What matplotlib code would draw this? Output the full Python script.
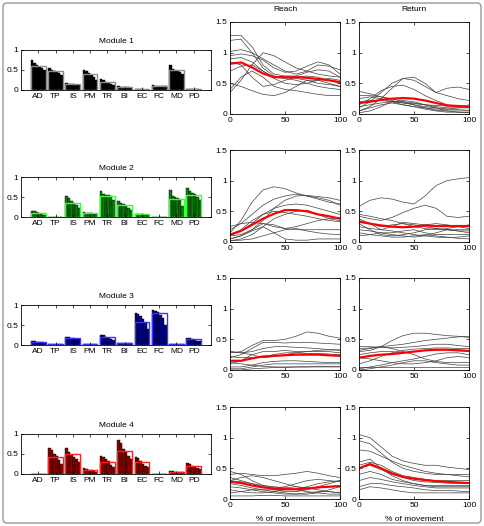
import numpy as np
import matplotlib.pyplot as plt
from matplotlib.patches import FancyBboxPatch

plt.rcParams['font.family'] = ['Liberation Sans', 'DejaVu Sans']
plt.rcParams['font.size'] = 6

muscles = ['AD', 'TP', 'IS', 'PM', 'TR', 'BI', 'EC', 'FC', 'MD', 'PD']
pct = [0, 10, 20, 30, 40, 50, 60, 70, 80, 90, 100]

# module weights per muscle (sorted subjects) and group mean outline
m1_bars = [[0.75, 0.68, 0.62, 0.58, 0.55, 0.50], [0.55, 0.50, 0.47, 0.45, 0.42, 0.38],
           [0.18, 0.16, 0.15, 0.14, 0.13, 0.12], [0.51, 0.47, 0.43, 0.38, 0.32, 0.25],
           [0.27, 0.24, 0.20, 0.18, 0.16, 0.13], [0.09, 0.08, 0.08, 0.07, 0.07, 0.06],
           [0.02, 0.02, 0.02, 0.02, 0.01, 0.01], [0.12, 0.11, 0.10, 0.10, 0.09, 0.09],
           [0.63, 0.52, 0.50, 0.48, 0.45, 0.40], [0.03, 0.03, 0.02, 0.02, 0.02, 0.01]]
m1_mean = [0.59, 0.47, 0.15, 0.39, 0.21, 0.08, 0.02, 0.10, 0.49, 0.02]

m2_bars = [[0.16, 0.14, 0.13, 0.10, 0.07, 0.06], [0.01, 0.01, 0.01, 0.01, 0.01, 0.01],
           [0.52, 0.47, 0.40, 0.35, 0.30, 0.22], [0.13, 0.11, 0.10, 0.09, 0.08, 0.07],
           [0.64, 0.58, 0.56, 0.55, 0.52, 0.42], [0.39, 0.35, 0.32, 0.28, 0.22, 0.18],
           [0.08, 0.08, 0.07, 0.07, 0.06, 0.05], [0.01, 0.01, 0.01, 0.01, 0.01, 0.01],
           [0.68, 0.53, 0.50, 0.47, 0.42, 0.27], [0.72, 0.66, 0.60, 0.58, 0.50, 0.42]]
m2_mean = [0.10, 0.01, 0.35, 0.10, 0.52, 0.31, 0.07, 0.01, 0.46, 0.56]

m3_bars = [[0.11, 0.09, 0.08, 0.07, 0.07, 0.06], [0.02, 0.02, 0.02, 0.02, 0.02, 0.02],
           [0.19, 0.19, 0.18, 0.18, 0.16, 0.14], [0.02, 0.02, 0.02, 0.02, 0.02, 0.02],
           [0.26, 0.24, 0.20, 0.17, 0.14, 0.12], [0.04, 0.04, 0.04, 0.04, 0.04, 0.04],
           [0.81, 0.78, 0.72, 0.65, 0.55, 0.40], [0.87, 0.85, 0.82, 0.75, 0.68, 0.50],
           [0.02, 0.02, 0.02, 0.02, 0.02, 0.02], [0.18, 0.17, 0.15, 0.13, 0.10, 0.09]]
m3_mean = [0.08, 0.02, 0.18, 0.02, 0.19, 0.04, 0.58, 0.80, 0.02, 0.15]

m4_bars = [[0.01, 0.01, 0.01, 0.01, 0.01, 0.01], [0.66, 0.60, 0.50, 0.45, 0.35, 0.25],
           [0.66, 0.55, 0.48, 0.43, 0.38, 0.30], [0.14, 0.13, 0.11, 0.09, 0.07, 0.06],
           [0.44, 0.42, 0.38, 0.32, 0.22, 0.18], [0.84, 0.78, 0.62, 0.55, 0.45, 0.37],
           [0.43, 0.40, 0.32, 0.25, 0.20, 0.17], [0.01, 0.01, 0.01, 0.01, 0.01, 0.01],
           [0.08, 0.07, 0.06, 0.06, 0.05, 0.05], [0.28, 0.25, 0.20, 0.18, 0.16, 0.12]]
m4_mean = [0.01, 0.43, 0.49, 0.10, 0.29, 0.57, 0.30, 0.01, 0.06, 0.20]

# activation coefficients, one curve per subject, plus the mean (red)
r1_reach = [[1.28, 1.28, 1.10, 0.80, 0.65, 0.62, 0.62, 0.68, 0.72, 0.70, 0.60],
            [1.20, 1.22, 1.00, 0.75, 0.62, 0.60, 0.58, 0.55, 0.50, 0.48, 0.45],
            [1.02, 1.05, 1.00, 0.90, 0.80, 0.70, 0.65, 0.70, 0.80, 0.78, 0.72],
            [0.95, 0.98, 0.95, 0.88, 0.75, 0.68, 0.70, 0.78, 0.85, 0.80, 0.65],
            [0.35, 0.55, 0.80, 1.00, 0.95, 0.85, 0.75, 0.70, 0.65, 0.62, 0.60],
            [0.40, 0.60, 0.70, 0.60, 0.45, 0.40, 0.38, 0.35, 0.32, 0.30, 0.30],
            [0.50, 0.45, 0.38, 0.32, 0.30, 0.35, 0.45, 0.55, 0.55, 0.50, 0.45],
            [0.85, 0.80, 0.60, 0.45, 0.48, 0.55, 0.60, 0.62, 0.60, 0.55, 0.50],
            [0.70, 0.78, 0.80, 0.70, 0.58, 0.50, 0.48, 0.50, 0.55, 0.58, 0.55],
            [0.90, 0.92, 0.85, 0.70, 0.60, 0.58, 0.55, 0.50, 0.45, 0.42, 0.40]]
r1_reach_mean = [0.82, 0.84, 0.76, 0.66, 0.60, 0.60, 0.60, 0.59, 0.57, 0.55, 0.52]

r1_return = [[0.10, 0.20, 0.35, 0.50, 0.58, 0.55, 0.45, 0.35, 0.30, 0.25, 0.22],
             [0.05, 0.12, 0.25, 0.42, 0.58, 0.60, 0.50, 0.35, 0.42, 0.44, 0.40],
             [0.15, 0.25, 0.38, 0.45, 0.47, 0.40, 0.30, 0.22, 0.15, 0.12, 0.10],
             [0.37, 0.33, 0.28, 0.22, 0.18, 0.15, 0.12, 0.10, 0.08, 0.07, 0.06],
             [0.30, 0.30, 0.28, 0.25, 0.20, 0.15, 0.10, 0.06, 0.05, 0.05, 0.05],
             [0.20, 0.22, 0.22, 0.20, 0.18, 0.17, 0.15, 0.14, 0.13, 0.12, 0.12],
             [0.12, 0.15, 0.18, 0.20, 0.20, 0.18, 0.15, 0.12, 0.10, 0.10, 0.10],
             [0.05, 0.10, 0.15, 0.18, 0.15, 0.12, 0.08, 0.05, 0.03, 0.03, 0.02],
             [0.25, 0.28, 0.25, 0.20, 0.15, 0.12, 0.10, 0.08, 0.08, 0.10, 0.15],
             [0.02, 0.05, 0.12, 0.20, 0.22, 0.20, 0.15, 0.10, 0.05, 0.03, 0.02]]
r1_return_mean = [0.18, 0.20, 0.23, 0.25, 0.26, 0.25, 0.22, 0.18, 0.14, 0.13, 0.12]

r2_reach = [[0.15, 0.35, 0.65, 0.85, 0.90, 0.87, 0.80, 0.75, 0.72, 0.68, 0.60],
            [0.20, 0.30, 0.45, 0.60, 0.70, 0.75, 0.78, 0.75, 0.70, 0.65, 0.62],
            [0.05, 0.10, 0.20, 0.35, 0.55, 0.68, 0.75, 0.76, 0.74, 0.72, 0.68],
            [0.10, 0.18, 0.30, 0.45, 0.55, 0.60, 0.62, 0.60, 0.55, 0.50, 0.45],
            [0.02, 0.05, 0.12, 0.25, 0.38, 0.45, 0.50, 0.52, 0.45, 0.38, 0.35],
            [0.25, 0.30, 0.32, 0.30, 0.25, 0.22, 0.25, 0.30, 0.35, 0.38, 0.40],
            [0.10, 0.12, 0.20, 0.30, 0.28, 0.22, 0.20, 0.20, 0.20, 0.20, 0.20],
            [0.05, 0.10, 0.18, 0.25, 0.15, 0.05, 0.03, 0.03, 0.05, 0.05, 0.05],
            [0.02, 0.03, 0.05, 0.10, 0.15, 0.20, 0.22, 0.18, 0.15, 0.13, 0.12],
            [0.12, 0.20, 0.35, 0.45, 0.50, 0.48, 0.45, 0.42, 0.38, 0.35, 0.33]]
r2_reach_mean = [0.12, 0.18, 0.28, 0.38, 0.46, 0.52, 0.52, 0.50, 0.45, 0.42, 0.38]

r2_return = [[0.58, 0.68, 0.72, 0.70, 0.65, 0.62, 0.75, 0.92, 1.00, 1.03, 1.05],
             [0.42, 0.38, 0.35, 0.40, 0.48, 0.55, 0.60, 0.55, 0.42, 0.40, 0.42],
             [0.45, 0.42, 0.38, 0.35, 0.30, 0.25, 0.22, 0.20, 0.22, 0.25, 0.28],
             [0.38, 0.30, 0.20, 0.25, 0.32, 0.30, 0.28, 0.30, 0.28, 0.25, 0.22],
             [0.30, 0.20, 0.12, 0.10, 0.12, 0.15, 0.20, 0.22, 0.20, 0.18, 0.15],
             [0.20, 0.18, 0.15, 0.15, 0.18, 0.20, 0.15, 0.12, 0.12, 0.12, 0.12],
             [0.15, 0.12, 0.10, 0.08, 0.08, 0.10, 0.12, 0.10, 0.08, 0.06, 0.05],
             [0.10, 0.12, 0.15, 0.12, 0.10, 0.08, 0.10, 0.15, 0.20, 0.20, 0.20],
             [0.35, 0.30, 0.25, 0.28, 0.30, 0.28, 0.25, 0.22, 0.20, 0.18, 0.18],
             [0.25, 0.22, 0.20, 0.18, 0.15, 0.12, 0.10, 0.08, 0.07, 0.08, 0.10]]
r2_return_mean = [0.33, 0.30, 0.27, 0.25, 0.24, 0.25, 0.27, 0.26, 0.26, 0.26, 0.26]

r3_reach = [[0.28, 0.30, 0.40, 0.48, 0.48, 0.50, 0.55, 0.62, 0.60, 0.55, 0.52],
            [0.20, 0.25, 0.35, 0.45, 0.45, 0.44, 0.45, 0.45, 0.44, 0.43, 0.42],
            [0.30, 0.28, 0.30, 0.35, 0.38, 0.38, 0.37, 0.36, 0.35, 0.33, 0.32],
            [0.10, 0.15, 0.25, 0.30, 0.30, 0.32, 0.30, 0.30, 0.30, 0.30, 0.28],
            [0.22, 0.20, 0.20, 0.22, 0.25, 0.28, 0.28, 0.27, 0.27, 0.26, 0.25],
            [0.05, 0.05, 0.08, 0.12, 0.14, 0.15, 0.15, 0.14, 0.13, 0.12, 0.12],
            [0.02, 0.02, 0.05, 0.08, 0.10, 0.10, 0.10, 0.10, 0.10, 0.10, 0.10],
            [0.00, 0.00, 0.02, 0.03, 0.04, 0.04, 0.05, 0.05, 0.06, 0.06, 0.06],
            [0.12, 0.10, 0.08, 0.06, 0.05, 0.05, 0.05, 0.05, 0.05, 0.05, 0.05],
            [0.30, 0.28, 0.25, 0.20, 0.22, 0.25, 0.28, 0.30, 0.32, 0.33, 0.33]]
r3_reach_mean = [0.15, 0.15, 0.19, 0.22, 0.23, 0.24, 0.25, 0.25, 0.25, 0.24, 0.23]

r3_return = [[0.30, 0.32, 0.38, 0.48, 0.56, 0.60, 0.60, 0.58, 0.56, 0.55, 0.53],
             [0.35, 0.36, 0.38, 0.40, 0.42, 0.45, 0.48, 0.50, 0.52, 0.54, 0.55],
             [0.38, 0.38, 0.37, 0.36, 0.37, 0.38, 0.40, 0.42, 0.42, 0.40, 0.38],
             [0.32, 0.35, 0.38, 0.35, 0.30, 0.25, 0.18, 0.14, 0.12, 0.12, 0.12],
             [0.10, 0.15, 0.22, 0.28, 0.32, 0.34, 0.35, 0.36, 0.36, 0.35, 0.35],
             [0.02, 0.05, 0.08, 0.12, 0.15, 0.18, 0.22, 0.26, 0.28, 0.28, 0.25],
             [0.00, 0.02, 0.05, 0.08, 0.12, 0.15, 0.15, 0.12, 0.10, 0.08, 0.08],
             [0.05, 0.05, 0.05, 0.05, 0.05, 0.05, 0.05, 0.05, 0.05, 0.05, 0.05],
             [0.25, 0.28, 0.30, 0.30, 0.28, 0.30, 0.32, 0.33, 0.33, 0.33, 0.32],
             [0.20, 0.18, 0.15, 0.12, 0.10, 0.10, 0.12, 0.15, 0.20, 0.22, 0.20]]
r3_return_mean = [0.20, 0.23, 0.25, 0.26, 0.28, 0.30, 0.32, 0.33, 0.33, 0.32, 0.31]

r4_reach = [[0.45, 0.40, 0.30, 0.22, 0.18, 0.20, 0.25, 0.30, 0.32, 0.30, 0.28],
            [0.35, 0.30, 0.25, 0.20, 0.15, 0.12, 0.12, 0.15, 0.20, 0.25, 0.30],
            [0.30, 0.35, 0.38, 0.35, 0.30, 0.25, 0.20, 0.18, 0.18, 0.20, 0.22],
            [0.40, 0.42, 0.40, 0.38, 0.38, 0.40, 0.42, 0.45, 0.42, 0.38, 0.35],
            [0.20, 0.18, 0.15, 0.12, 0.10, 0.08, 0.08, 0.10, 0.12, 0.12, 0.10],
            [0.10, 0.12, 0.15, 0.15, 0.12, 0.10, 0.08, 0.08, 0.10, 0.15, 0.20],
            [0.25, 0.22, 0.18, 0.15, 0.15, 0.18, 0.20, 0.18, 0.15, 0.12, 0.10],
            [0.05, 0.05, 0.05, 0.06, 0.06, 0.05, 0.05, 0.05, 0.05, 0.05, 0.05],
            [0.15, 0.12, 0.10, 0.10, 0.12, 0.15, 0.15, 0.12, 0.10, 0.08, 0.08],
            [0.30, 0.28, 0.25, 0.22, 0.20, 0.18, 0.15, 0.20, 0.25, 0.28, 0.30]]
r4_reach_mean = [0.28, 0.26, 0.22, 0.19, 0.17, 0.16, 0.16, 0.17, 0.19, 0.20, 0.21]

r4_return = [[1.05, 1.00, 0.85, 0.70, 0.62, 0.58, 0.55, 0.55, 0.52, 0.50, 0.48],
             [0.95, 0.90, 0.75, 0.60, 0.50, 0.45, 0.42, 0.40, 0.40, 0.40, 0.40],
             [0.80, 0.78, 0.70, 0.62, 0.55, 0.50, 0.45, 0.42, 0.40, 0.38, 0.36],
             [0.55, 0.60, 0.55, 0.45, 0.38, 0.35, 0.32, 0.30, 0.30, 0.30, 0.30],
             [0.50, 0.55, 0.48, 0.40, 0.35, 0.30, 0.28, 0.27, 0.26, 0.25, 0.25],
             [0.40, 0.45, 0.40, 0.32, 0.28, 0.25, 0.22, 0.22, 0.22, 0.22, 0.22],
             [0.30, 0.35, 0.32, 0.28, 0.25, 0.22, 0.20, 0.18, 0.18, 0.18, 0.18],
             [0.20, 0.25, 0.25, 0.22, 0.20, 0.18, 0.15, 0.14, 0.14, 0.13, 0.12],
             [0.60, 0.65, 0.50, 0.38, 0.30, 0.25, 0.22, 0.20, 0.20, 0.20, 0.20],
             [0.15, 0.20, 0.18, 0.15, 0.12, 0.10, 0.10, 0.10, 0.10, 0.10, 0.10]]
r4_return_mean = [0.50, 0.57, 0.50, 0.42, 0.36, 0.33, 0.31, 0.29, 0.28, 0.27, 0.26]

bar_data = [(m1_bars, m1_mean), (m2_bars, m2_mean), (m3_bars, m3_mean), (m4_bars, m4_mean)]
bar_colors = [('black', '0.55'), ('#0b7d0b', '#33ff33'), ('#00008b', '#3535ff'), ('#8b0000', '#ff2020')]
curves = [(r1_reach, r1_reach_mean, r1_return, r1_return_mean),
          (r2_reach, r2_reach_mean, r2_return, r2_return_mean),
          (r3_reach, r3_reach_mean, r3_return, r3_return_mean),
          (r4_reach, r4_reach_mean, r4_return, r4_return_mean)]

W, H = 484, 526
fig = plt.figure(figsize=(W / 100, H / 100), dpi=100)


def px_axes(left, top, width, height):
    return fig.add_axes([left / W, 1 - (top + height) / H, width / W, height / H])


def matlab_style(ax):
    ax.tick_params(direction='in', length=2, width=0.5, top=True, right=True, pad=2)
    for s in ax.spines.values():
        s.set_linewidth(0.6)


bar_tops = [50, 177, 305, 434]
line_tops = [22, 150, 278, 407]
nsub = 6
gw = 0.85
for k in range(4):
    bars, means = bar_data[k]
    fill, edge = bar_colors[k]
    ax = px_axes(21, bar_tops[k], 190, 40)
    for i in range(len(muscles)):
        p = i + 1
        w = gw / nsub
        xs = [p - gw / 2 + (j + 0.5) * w for j in range(nsub)]
        ax.bar(xs, bars[i], width=w, color=fill, edgecolor='black', linewidth=0.3)
        ax.bar(p, means[i], width=gw, fill=False, edgecolor=edge, linewidth=1.0)
    ax.set_xlim(0, 11)
    ax.set_ylim(0, 1)
    ax.set_xticks(range(1, 11))
    ax.set_xticklabels(muscles)
    ax.set_yticks([0, 0.5, 1])
    ax.set_yticklabels(['0', '0.5', '1'])
    matlab_style(ax)
    ax.set_title('Module %d' % (k + 1), fontsize=6, pad=5)

    reach, reach_m, ret, ret_m = curves[k]
    for j, (lines, mean) in enumerate([(reach, reach_m), (ret, ret_m)]):
        ax = px_axes(230 + j * 129, line_tops[k], 110, 92)
        for c in lines:
            ax.plot(pct, c, color='0.25', linewidth=0.5)
        ax.plot(pct, mean, color='red', linewidth=1.6)
        ax.set_xlim(0, 100)
        ax.set_ylim(0, 1.5)
        ax.set_xticks([0, 50, 100])
        ax.set_yticks([0, 0.5, 1, 1.5])
        ax.set_yticklabels(['0', '0.5', '1', '1.5'])
        matlab_style(ax)
        if k == 0:
            ax.set_title(['Reach', 'Return'][j], fontsize=6, pad=8)
        if k == 3:
            ax.set_xlabel('% of movement', fontsize=6, labelpad=5)

fig.patches.append(FancyBboxPatch((3 / W, 3 / H), 1 - 6 / W, 1 - 6 / H,
                                  boxstyle='round,pad=0,rounding_size=0.008',
                                  transform=fig.transFigure, fill=False,
                                  edgecolor='0.6', linewidth=1.0))

plt.savefig('out.png', dpi=100)
